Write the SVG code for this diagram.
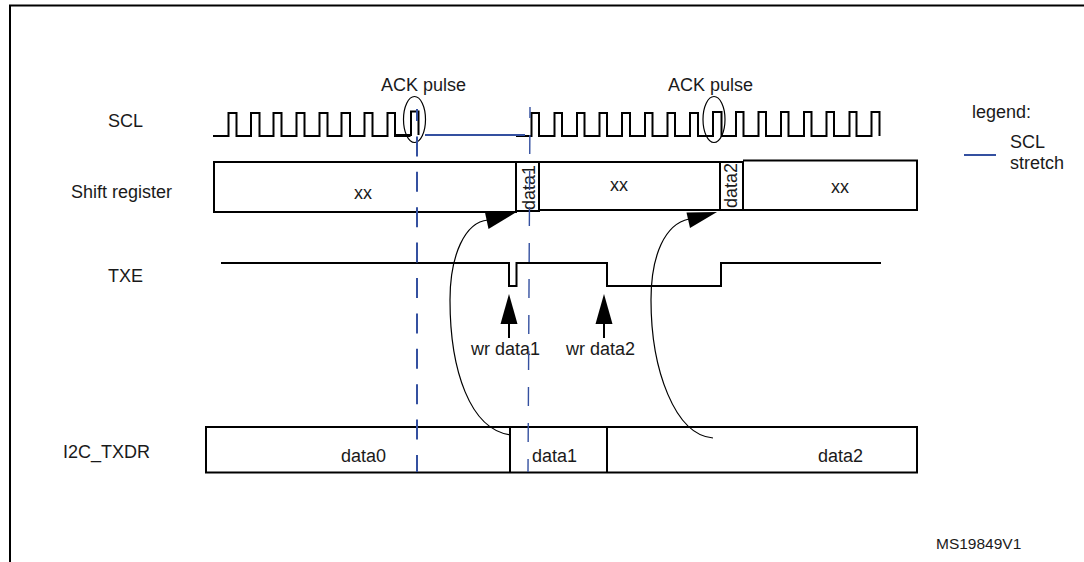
<svg xmlns="http://www.w3.org/2000/svg" width="1084" height="562" viewBox="0 0 1084 562">
<style>
text{font-family:"Liberation Sans",Arial,sans-serif;font-size:18px;fill:#1a1a1a}
.k{fill:none;stroke:#000;stroke-width:2}
.w{fill:none;stroke:#000;stroke-width:1.200}
.b{fill:none;stroke:#3450a0;stroke-width:2}
.h{fill:#000;stroke:none}
</style>
<rect width="1084" height="562" fill="#fff"/>
<path id="frame" class="k" d="M10 562V5.500H1084"/>
<g id="labels">
<text x="108" y="127">SCL</text>
<text x="71" y="198">Shift register</text>
<text x="108" y="282">TXE</text>
<text x="63" y="458">I2C_TXDR</text>
</g>
<g id="scl">
<path class="k" d="M213 136H228.500V113H236.500V136H251V113H259.500V136H273.500V113H281.500V136H296.500V113H304.500V136H319.500V113H327.500V136H341.500V113H350V136H364.500V113H372.500V136H387.500V113H395V136H410.500"/>
<path class="k" d="M396 135H411V111.500H418.500V135"/>
<path class="k" d="M516 136H531.500V113H539V136H554.500V113H562V136H577V113H584.500V136H599.500V113H607V136H622V113H630V136H645V113H652.500V136H667.500V113H675V136H690V113H698V136H713V112H721.500V136H736V112H743.500V136H758.500V112H766V136H781V112H788.500V136H804V112H811.500V136H826.500V112H834V136H849.500V112H856.500V136H871.500V112H879.500V136"/>
<path class="b" d="M425 135H525"/>
<ellipse class="w" cx="414.500" cy="119.500" rx="11" ry="23"/>
<ellipse class="w" cx="714" cy="119.500" rx="11" ry="23"/>
<text x="381" y="91">ACK pulse</text>
<text x="668" y="91">ACK pulse</text>
</g>
<g id="shift-register">
<path class="k" d="M214 162H516V212H214Z"/>
<path class="k" d="M516 162H539V211H516Z"/>
<path class="k" d="M539 162H720V210H539"/>
<path class="k" d="M720 162H743V210H720Z"/>
<path class="k" d="M743 160.500H917V210H743"/>
<text x="354" y="199">xx</text>
<text x="610" y="191">xx</text>
<text x="831" y="193">xx</text>
<text transform="translate(535 210) rotate(-90)">data1</text>
<text transform="translate(737 208) rotate(-90)">data2</text>
</g>
<g id="txe">
<path class="k" d="M221 263H509V286H516.500V263H607V286H721V263H881"/>
<text x="471" y="355">wr data1</text>
<text x="566" y="355">wr data2</text>
</g>
<g id="i2c-txdr">
<path class="k" d="M206 427H917V472.500H206Z"/>
<path class="k" d="M510 427V472.500M607 427V472.500"/>
<text x="341" y="462">data0</text>
<text x="532" y="462">data1</text>
<text x="818" y="462">data2</text>
</g>
<g id="legend">
<text x="972" y="118">legend:</text>
<text x="1010" y="148">SCL</text>
<text x="1010" y="169">stretch</text>
<path class="b" d="M964 155H996"/>
</g>
<text id="ref" x="936" y="549" style="font-size:15.500px">MS19849V1</text>
<g id="connectors">
<path class="b" d="M417 109V472" stroke-dasharray="20 15.400" stroke-dashoffset="8"/>
<path class="b" d="M530 107L528 472" style="stroke-width:1.400" stroke-dasharray="19 17" stroke-dashoffset="8"/>
<path class="w" d="M511 435C470 430 450 370 450 300C450 255 465 222 488 220"/>
<polygon class="h" points="516.500,212 485,212.500 488.500,229"/>
<path class="w" d="M713 438C675 435 651 370 651 300C651 255 665 224 689 219"/>
<polygon class="h" points="717,212 686.500,212.500 690,228"/>
<path class="k" d="M509 338V320"/>
<polygon class="h" points="509,294 500.500,324 517.500,324"/>
<path class="k" d="M604 338V320"/>
<polygon class="h" points="604,294 595.500,324 612.500,324"/>
</g>
</svg>
